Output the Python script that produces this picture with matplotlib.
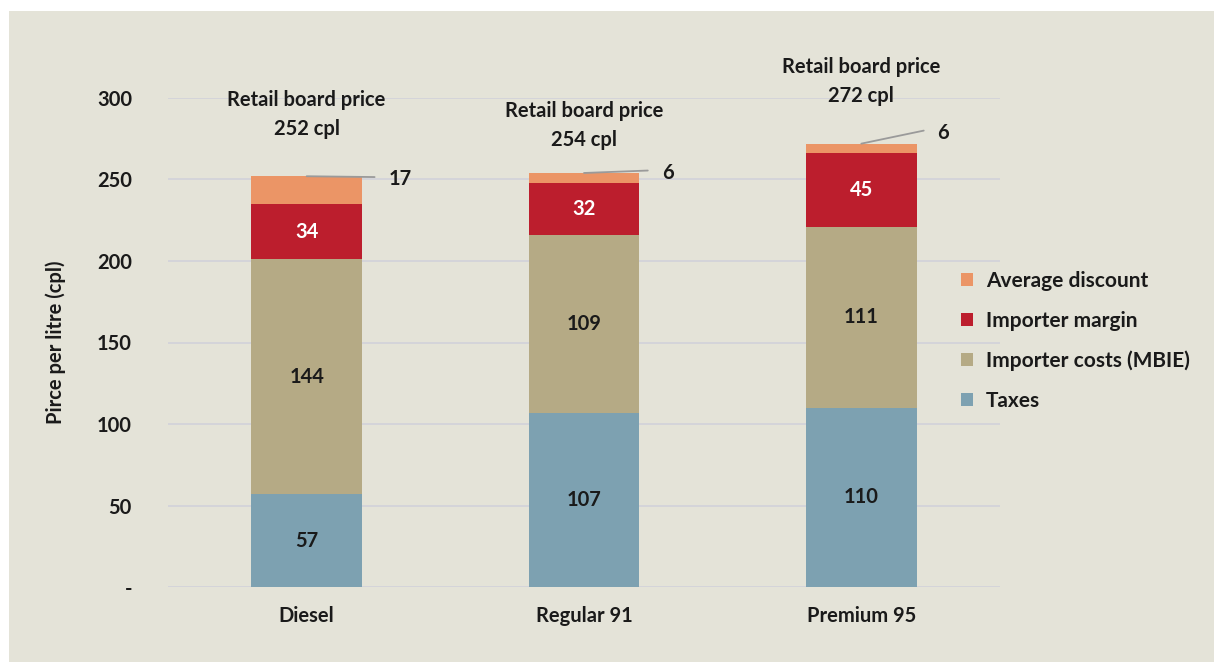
import numpy as np
import matplotlib.pyplot as plt
from matplotlib.patches import Rectangle

plt.rcParams['font.family'] = ['Lato', 'DejaVu Sans']
plt.rcParams['font.weight'] = 'bold'

# fuel grades and the price build-up (cents per litre)
fuels = ['Diesel', 'Regular 91', 'Premium 95']
taxes = [57, 107, 110]
importer_costs = [144, 109, 111]
importer_margin = [34, 32, 45]
avg_discount = [17, 6, 6]
board_price = [252, 254, 272]

y_ticks = [0, 50, 100, 150, 200, 250, 300]
y_tick_labels = ['-', '50', '100', '150', '200', '250', '300']

c_tax = '#7DA1B1'
c_cost = '#B5AA85'
c_margin = '#BC1E2D'
c_disc = '#EB9566'
bg = '#E4E3D8'
ink = '#1a1a1a'
fs = 14.5

fig = plt.figure(figsize=(12.14, 6.62), dpi=100, facecolor='white')
fig.patches.append(Rectangle((9 / 1214, 0), 1, (662 - 11) / 662,
                             transform=fig.transFigure, facecolor=bg,
                             edgecolor='none', zorder=-10))
ax = fig.add_axes([168 / 1214, (662 - 587) / 662, 832 / 1214, 489 / 662])
ax.set_facecolor(bg)

x = np.arange(len(fuels))
w = 0.4
b1 = np.array(taxes)
b2 = b1 + np.array(importer_costs)
b3 = b2 + np.array(importer_margin)

ax.bar(x, taxes, w, color=c_tax, label='Taxes', zorder=3)
ax.bar(x, importer_costs, w, bottom=b1, color=c_cost, label='Importer costs (MBIE)', zorder=3)
ax.bar(x, importer_margin, w, bottom=b2, color=c_margin, label='Importer margin', zorder=3)
ax.bar(x, avg_discount, w, bottom=b3, color=c_disc, label='Average discount', zorder=3)

# values inside the segments
for i in range(len(fuels)):
    ax.text(x[i], taxes[i] / 2, str(taxes[i]), ha='center', va='center',
            fontsize=fs, fontweight='bold', color=ink, zorder=4)
    ax.text(x[i], b1[i] + importer_costs[i] / 2, str(importer_costs[i]), ha='center',
            va='center', fontsize=fs, fontweight='bold', color=ink, zorder=4)
    ax.text(x[i], b2[i] + importer_margin[i] / 2, str(importer_margin[i]), ha='center',
            va='center', fontsize=fs, fontweight='bold', color='white', zorder=4)

# discount labels sit outside with a leader line
lead_dx = [0.245, 0.23, 0.225]
lead_dy = [-0.5, 1.5, 8]
for i in range(len(fuels)):
    top = b3[i] + avg_discount[i]
    ax.annotate('', xy=(x[i], top), xytext=(x[i] + lead_dx[i], top + lead_dy[i]),
                arrowprops=dict(arrowstyle='-', color='#9a9a9a', lw=1.3,
                                shrinkA=0, shrinkB=0),
                annotation_clip=False, zorder=5)
    ax.text(x[i] + lead_dx[i] + 0.05, top + lead_dy[i] - 1.5, str(avg_discount[i]),
            ha='left', va='center', fontsize=fs, fontweight='bold', color=ink, zorder=5)

# board price headers
head_y = [290, 283, 310]
for i in range(len(fuels)):
    ax.text(x[i], head_y[i], 'Retail board price\n%d cpl' % board_price[i], ha='center',
            va='center', fontsize=fs, fontweight='bold', color=ink,
            linespacing=1.55, clip_on=False)

ax.set_xlim(-0.5, 2.5)
ax.set_ylim(0, 300)
ax.set_yticks(y_ticks)
ax.set_yticklabels(y_tick_labels)
ax.set_xticks(x)
ax.set_xticklabels(fuels)
ax.tick_params(axis='both', length=0, labelsize=fs, colors=ink)
ax.tick_params(axis='y', pad=26)
ax.tick_params(axis='x', pad=14)
ax.grid(axis='y', color='#D3D3DA', lw=1.3, zorder=0)
for s in ax.spines.values():
    s.set_visible(False)
ax.set_ylabel('Pirce per litre (cpl)', fontsize=fs, fontweight='bold', color=ink, labelpad=22)

h, l = ax.get_legend_handles_labels()
leg = fig.legend(h[::-1], l[::-1], loc='upper left', bbox_to_anchor=(942 / 1214, 1 - 252 / 662),
                 frameon=False, fontsize=15, handlelength=0.6, handleheight=0.6,
                 handletextpad=0.6, labelspacing=0.95)
for t in leg.get_texts():
    t.set_color(ink)

fig.savefig('out.png', dpi=100, facecolor=fig.get_facecolor())
